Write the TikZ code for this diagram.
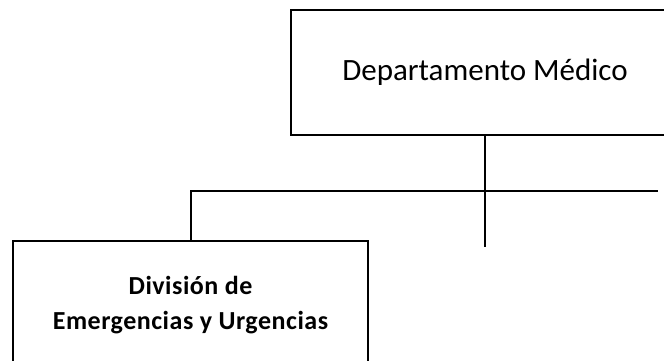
\documentclass[tikz,border=0pt]{standalone}
\usepackage{fontspec}
\setmainfont{Carlito}
\usetikzlibrary{positioning}

\tikzset{
  unitbox/.style={draw, line width=2pt, fill=white, align=center, inner sep=0pt},
  link/.style={line width=2pt},
}

\begin{document}
\begin{tikzpicture}[x=1pt, y=-1pt]
  \useasboundingbox (0,0) rectangle (664,360);
  \clip (0,0) rectangle (664,360);
  % boxes
  \node[unitbox, minimum width=388pt, minimum height=125pt,
        font=\fontsize{31}{36}\selectfont] (dept) at (485,72.5) {Departamento Médico};
  \node[unitbox, minimum width=355pt, minimum height=129pt,
        font=\addfontfeatures{LetterSpace=2}\fontsize{26}{35}\selectfont\bfseries] (div) at (190.5,305) {División de\\Emergencias y Urgencias};
  % connectors
  \coordinate (stub) at (dept.south |- 0,247);
  \coordinate (busend) at (658,191);
  \draw[link] (dept.south) -- (stub);
  \draw[link] (div.north) |- (busend);
\end{tikzpicture}
\end{document}
